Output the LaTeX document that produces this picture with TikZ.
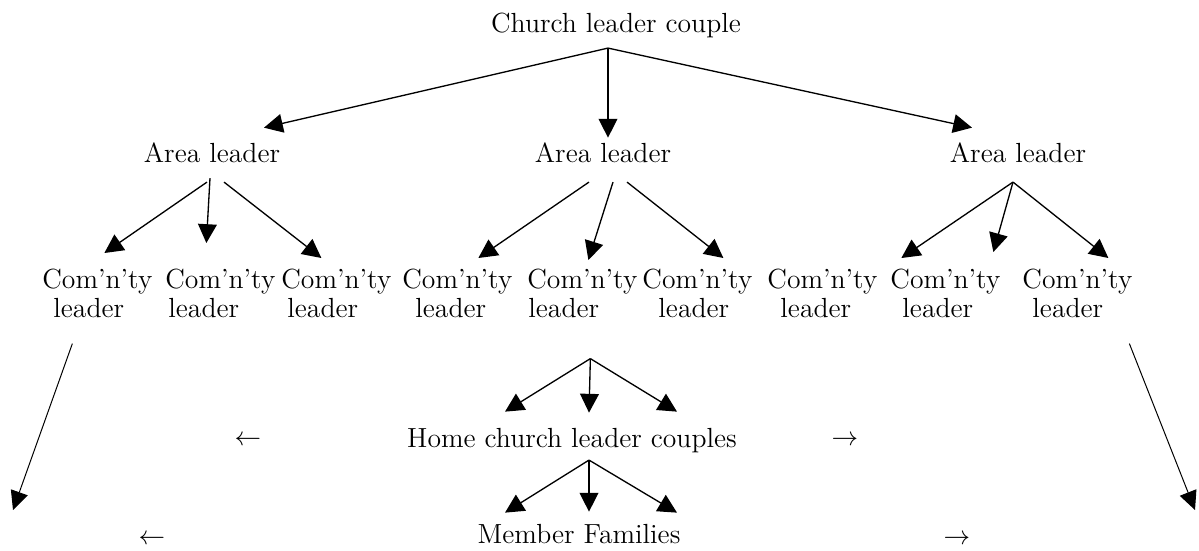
\documentclass[tikz,border=0pt]{standalone}
\usetikzlibrary{arrows.meta}
\usetikzlibrary{calc}
\newlength\pxlen
\setlength\pxlen{0.452pt}

\begin{document}
\begin{tikzpicture}[x=0.452pt,y=0.452pt,yscale=-1,xscale=1,
  txt/.style={inner sep=0pt,text height=9pt,text depth=3pt,anchor=base,font=\fontsize{12.5}{13.1}\selectfont},
  cl/.style={inner sep=0pt,anchor=north west,align=left,font=\fontsize{12.5}{13.1}\selectfont},
  tip/.style={line width=0.6pt,-{Triangle[length=8.5pt,width=8.5pt]}},
  longtip/.style={line width=0.45pt,-{Triangle[length=8.5pt,width=8pt]}}]
\useasboundingbox (0,0) rectangle (1199,550);

% Text Node
\node[txt] (church) at (616,32) {Church leader couple};
% Text Node
\node[txt] (area1) at (212,162) {Area leader};
\node[txt] (area2) at (603,162) {Area leader};
\node[txt] (area3) at (1018,162) {Area leader};
% Text Node
\node[cl] (cl1) at (42,269) {Com'n'ty\\\hspace*{11\pxlen}leader};
\node[cl] (cl2) at (165,269) {Com'n'ty\\\hspace*{3\pxlen}leader};
\node[cl] (cl3) at (281,269) {Com'n'ty\\\hspace*{6\pxlen}leader};
\node[cl] (cl4) at (402,269) {Com'n'ty\\\hspace*{13\pxlen}leader};
\node[cl] (cl5) at (527,269) {Com'n'ty\\\hspace*{1\pxlen}leader};
\node[cl] (cl6) at (642,269) {Com'n'ty\\\hspace*{16\pxlen}leader};
\node[cl] (cl7) at (767,269) {Com'n'ty\\\hspace*{13\pxlen}leader};
\node[cl] (cl8) at (890,269) {Com'n'ty\\\hspace*{12\pxlen}leader};
\node[cl] (cl9) at (1022,269) {Com'n'ty\\\hspace*{10\pxlen}leader};
% Text Node
\node[txt] (hc) at (572,447) {Home church leader couples};
\node[txt] (mf) at (579,543) {Member Families};
% Text Node
\node[txt] (la1) at (248,445) {$\leftarrow$};
\node[txt] (ra1) at (845,445) {$\rightarrow$};
\node[txt] (la2) at (152,544) {$\leftarrow$};
\node[txt] (ra2) at (957,544) {$\rightarrow$};
\coordinate (farleft) at (13,510);
\coordinate (farright) at (1195,510);

%Straight Lines
\draw[tip] ($(church.south)+(-8,9)$) -- ($(area1.north)+(52,-14)$);
\draw[tip] ($(church.south)+(-8,9)$) -- ($(area2.north)+(5,-4)$);
\draw[tip] ($(church.south)+(-8,9)$) -- ($(area3.north)+(-46,-14)$);
%Straight Lines
\draw[tip] ($(area1.south)+(-5,13)$) -- ($(cl1.north)+(7,-16)$);
\draw[tip] ($(area1.south)+(-2,9)$) -- ($(cl2.north)+(-14,-26)$);
\draw[tip] ($(area1.south)+(12,13)$) -- ($(cl3.north)+(-15,-11)$);
\draw[tip] ($(area2.south)+(-14,13)$) -- ($(cl4.north)+(21,-11)$);
\draw[tip] ($(area2.south)+(10,13)$) -- ($(cl5.north)+(6,-9)$);
\draw[tip] ($(area2.south)+(24,13)$) -- ($(cl6.north)+(26,-11)$);
\draw[tip] ($(area3.south)+(-5,13)$) -- ($(cl7.north)+(79,-11)$);
\draw[tip] ($(area3.south)+(-5,13)$) -- ($(cl8.north)+(48,-17)$);
\draw[tip] ($(area3.south)+(-5,13)$) -- ($(cl9.north)+(31,-11)$);
%Straight Lines
\draw[tip] ($(cl5.south)+(8,40)$) -- ($(hc.north)+(-67,-15)$);
\draw[tip] ($(cl5.south)+(8,40)$) -- ($(hc.north)+(17,-14)$);
\draw[tip] ($(cl5.south)+(8,40)$) -- ($(hc.north)+(105,-15)$);
\draw[tip] ($(hc.south)+(17,6)$) -- ($(mf.north)+(-74,-10)$);
\draw[tip] ($(hc.south)+(17,6)$) -- ($(mf.north)+(10,-11)$);
\draw[tip] ($(hc.south)+(17,6)$) -- ($(mf.north)+(98,-10)$);
%Straight Lines
\draw[longtip] ($(cl1.south)+(-25,25)$) -- (farleft);
\draw[longtip] ($(cl9.south)+(52,25)$) -- (farright);

\end{tikzpicture}
\end{document}
